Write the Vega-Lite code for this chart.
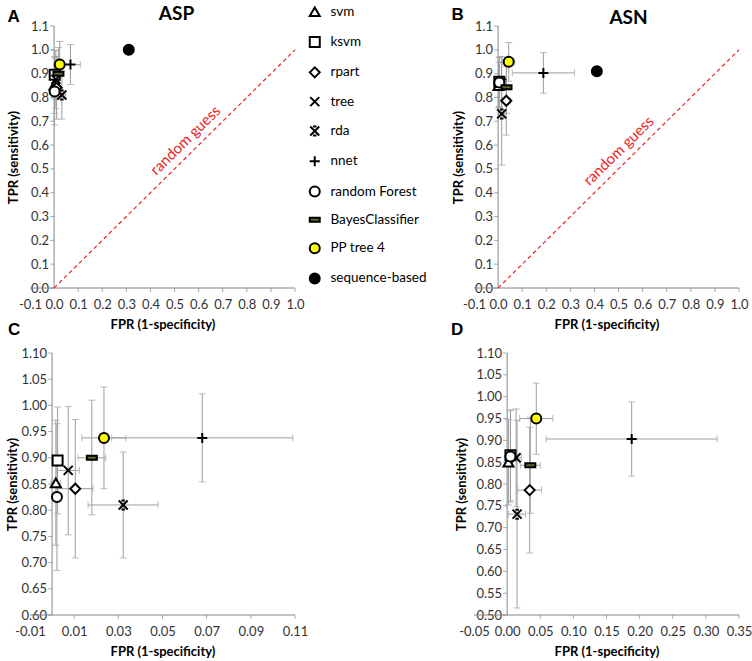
{
"$schema": "https://vega.github.io/schema/vega-lite/v6.json",
"padding": {"left": 6, "top": 4, "right": 2, "bottom": 2},
"background": "white",
"config": {
  "font": "Lato",
  "view": {"stroke": null},
  "axis": {"labelFont": "Lato", "labelFontSize": 13, "labelColor": "#333333", "titleFont": "Lato", "titleFontSize": 13, "titleFontWeight": "bold", "titleColor": "#000000"}
},
"datasets": {
  "asp": [
    {"method": "svm", "fpr": 0.0017, "fpr_lo": -0.0005, "fpr_hi": 0.0039, "tpr": 0.852, "tpr_lo": 0.733, "tpr_hi": 0.972},
    {"method": "ksvm", "fpr": 0.0025, "fpr_lo": 0.0005, "fpr_hi": 0.0045, "tpr": 0.895, "tpr_lo": 0.793, "tpr_hi": 0.997},
    {"method": "rpart", "fpr": 0.0105, "fpr_lo": 0.0025, "fpr_hi": 0.0185, "tpr": 0.841, "tpr_lo": 0.709, "tpr_hi": 0.973},
    {"method": "tree", "fpr": 0.0073, "fpr_lo": 0.0023, "fpr_hi": 0.0123, "tpr": 0.876, "tpr_lo": 0.753, "tpr_hi": 0.998},
    {"method": "rda", "fpr": 0.0322, "fpr_lo": 0.0163, "fpr_hi": 0.048, "tpr": 0.81, "tpr_lo": 0.709, "tpr_hi": 0.911},
    {"method": "nnet", "fpr": 0.068, "fpr_lo": 0.027, "fpr_hi": 0.109, "tpr": 0.938, "tpr_lo": 0.854, "tpr_hi": 1.022},
    {"method": "random Forest", "fpr": 0.0022, "fpr_lo": 0.0002, "fpr_hi": 0.0042, "tpr": 0.825, "tpr_lo": 0.685, "tpr_hi": 0.965},
    {"method": "BayesClassifier", "fpr": 0.018, "fpr_lo": 0.0118, "fpr_hi": 0.0243, "tpr": 0.9, "tpr_lo": 0.791, "tpr_hi": 1.01},
    {"method": "PP tree 4", "fpr": 0.0235, "fpr_lo": 0.0135, "fpr_hi": 0.0335, "tpr": 0.938, "tpr_lo": 0.841, "tpr_hi": 1.035},
    {"method": "sequence-based", "fpr": 0.31, "fpr_lo": null, "fpr_hi": null, "tpr": 1.0, "tpr_lo": null, "tpr_hi": null}
  ],
  "asn": [
    {"method": "svm", "fpr": 0.002, "fpr_lo": 0.0, "fpr_hi": 0.004, "tpr": 0.85, "tpr_lo": 0.752, "tpr_hi": 0.948},
    {"method": "ksvm", "fpr": 0.005, "fpr_lo": 0.001, "fpr_hi": 0.009, "tpr": 0.866, "tpr_lo": 0.762, "tpr_hi": 0.97},
    {"method": "rpart", "fpr": 0.034, "fpr_lo": 0.016, "fpr_hi": 0.052, "tpr": 0.786, "tpr_lo": 0.642, "tpr_hi": 0.93},
    {"method": "tree", "fpr": 0.0136, "fpr_lo": 0.0056, "fpr_hi": 0.0216, "tpr": 0.86, "tpr_lo": 0.748, "tpr_hi": 0.972},
    {"method": "rda", "fpr": 0.015, "fpr_lo": 0.002, "fpr_hi": 0.028, "tpr": 0.731, "tpr_lo": 0.516, "tpr_hi": 0.946},
    {"method": "nnet", "fpr": 0.188, "fpr_lo": 0.059, "fpr_hi": 0.317, "tpr": 0.903, "tpr_lo": 0.818, "tpr_hi": 0.988},
    {"method": "random Forest", "fpr": 0.005, "fpr_lo": 0.001, "fpr_hi": 0.009, "tpr": 0.863, "tpr_lo": 0.758, "tpr_hi": 0.968},
    {"method": "BayesClassifier", "fpr": 0.035, "fpr_lo": 0.02, "fpr_hi": 0.05, "tpr": 0.843, "tpr_lo": 0.733, "tpr_hi": 0.953},
    {"method": "PP tree 4", "fpr": 0.044, "fpr_lo": 0.019, "fpr_hi": 0.069, "tpr": 0.95, "tpr_lo": 0.868, "tpr_hi": 1.031},
    {"method": "sequence-based", "fpr": 0.41, "fpr_lo": null, "fpr_hi": null, "tpr": 0.91, "tpr_lo": null, "tpr_hi": null}
  ]
},
"columns": 2,
"spacing": {"row": 65, "column": 179},
"bounds": "flush",
"resolve": {"scale": {"x": "independent", "y": "independent", "shape": "independent", "fill": "independent", "stroke": "independent"}},
"concat": [
  {
    "width": 265, "height": 262,
    "data": {"name": "asp"},
    "resolve": {"axis": {"x": "independent", "y": "independent"}},
    "layer": [
      {"data": {"values": [{}]}, "mark": {"type": "rule", "color": "#868686", "strokeWidth": 1},
       "encoding": {"x": {"datum": -0.1, "type": "quantitative", "axis": null}, "x2": {"datum": 1.0}, "y": {"datum": 0, "type": "quantitative", "axis": null}}},
      {"data": {"values": [{}]}, "mark": {"type": "rule", "color": "#868686", "strokeWidth": 1},
       "encoding": {"x": {"datum": 0, "type": "quantitative", "axis": null}, "y": {"datum": 0, "type": "quantitative", "axis": null}, "y2": {"datum": 1.1}}},
      {"data": {"values": [{"v": 0.1}, {"v": 0.2}, {"v": 0.3}, {"v": 0.4}, {"v": 0.5}, {"v": 0.6}, {"v": 0.7}, {"v": 0.8}, {"v": 0.9}, {"v": 1.0}]},
       "mark": {"type": "tick", "orient": "vertical", "size": 4, "thickness": 1, "color": "#868686", "yOffset": 2},
       "encoding": {"x": {"field": "v", "type": "quantitative", "axis": null}, "y": {"datum": 0, "type": "quantitative", "axis": null}}},
      {"data": {"values": [{"v": 0}, {"v": 0.1}, {"v": 0.2}, {"v": 0.3}, {"v": 0.4}, {"v": 0.5}, {"v": 0.6}, {"v": 0.7}, {"v": 0.8}, {"v": 0.9}, {"v": 1.0}, {"v": 1.1}]},
       "mark": {"type": "tick", "orient": "horizontal", "size": 4, "thickness": 1, "color": "#868686", "xOffset": -2},
       "encoding": {"x": {"datum": 0, "type": "quantitative", "axis": null}, "y": {"field": "v", "type": "quantitative", "axis": null}}},
      {"data": {"values": [{}]}, "mark": {"type": "rule", "stroke": "#ee2222", "strokeDash": [4, 3], "strokeWidth": 1.2},
       "encoding": {"x": {"datum": 0, "type": "quantitative", "axis": null}, "y": {"datum": 0, "type": "quantitative", "axis": null}, "x2": {"datum": 1}, "y2": {"datum": 1}}},
      {"data": {"values": [{}]}, "mark": {"type": "text", "angle": 315.5, "fontSize": 15, "font": "Lato", "color": "#ee2222"},
       "encoding": {"x": {"datum": 0.545, "type": "quantitative", "axis": null}, "y": {"datum": 0.62, "type": "quantitative", "axis": null}, "text": {"value": "random guess"}}},
      {"transform": [{"filter": "datum.fpr_lo != null"}], "mark": {"type": "rule", "color": "#9e9e9e", "strokeWidth": 1},
       "encoding": {
         "x": {"field": "fpr_lo", "type": "quantitative", "scale": {"domain": [-0.1, 1.0], "nice": false, "zero": false},
               "axis": {"orient": "bottom", "title": "FPR (1-specificity)", "values": [-0.1, 0, 0.1, 0.2, 0.3, 0.4, 0.5, 0.6, 0.7, 0.8, 0.9, 1.0], "labelExpr": "replace(format(datum.value, '.1f'), '\u2212', '-')", "domain": false, "ticks": true, "tickColor": "transparent", "tickSize": 4, "grid": false, "labelOverlap": false, "labelFlush": false, "labelPadding": 6, "titlePadding": 7}},
         "x2": {"field": "fpr_hi"},
         "y": {"field": "tpr", "type": "quantitative", "scale": {"domain": [0, 1.1], "nice": false, "zero": false},
               "axis": {"orient": "left", "title": "TPR (sensitivity)", "values": [0, 0.1, 0.2, 0.3, 0.4, 0.5, 0.6, 0.7, 0.8, 0.9, 1.0, 1.1], "format": ".1f", "offset": -24.1, "domain": false, "ticks": true, "tickColor": "transparent", "tickSize": 4, "grid": false, "labelOverlap": false, "labelFlush": false, "labelPadding": 1.5, "titlePadding": 10}}}},
      {"transform": [{"filter": "datum.fpr_lo != null"}], "mark": {"type": "tick", "orient": "vertical", "size": 7, "thickness": 1, "color": "#9e9e9e"},
       "encoding": {"x": {"field": "fpr_lo", "type": "quantitative", "axis": null}, "y": {"field": "tpr", "type": "quantitative", "axis": null}}},
      {"transform": [{"filter": "datum.fpr_lo != null"}], "mark": {"type": "tick", "orient": "vertical", "size": 7, "thickness": 1, "color": "#9e9e9e"},
       "encoding": {"x": {"field": "fpr_hi", "type": "quantitative", "axis": null}, "y": {"field": "tpr", "type": "quantitative", "axis": null}}},
      {"transform": [{"filter": "datum.fpr_lo != null"}], "mark": {"type": "rule", "color": "#9e9e9e", "strokeWidth": 1},
       "encoding": {
         "x": {"field": "fpr", "type": "quantitative", "axis": {"orient": "top", "domain": false, "ticks": false, "labels": false, "grid": false, "title": "A", "titleX": -23, "titleY": -10, "titleAlign": "left", "titleBaseline": "middle", "titleAngle": 0, "titleFont": "Liberation Sans", "titleFontSize": 17, "titleFontWeight": "bold"}},
         "y": {"field": "tpr_lo", "type": "quantitative", "axis": null}, "y2": {"field": "tpr_hi"}}},
      {"transform": [{"filter": "datum.fpr_lo != null"}], "mark": {"type": "tick", "orient": "horizontal", "size": 7, "thickness": 1, "color": "#9e9e9e"},
       "encoding": {"x": {"field": "fpr", "type": "quantitative", "axis": null}, "y": {"field": "tpr_lo", "type": "quantitative", "axis": null}}},
      {"transform": [{"filter": "datum.fpr_lo != null"}], "mark": {"type": "tick", "orient": "horizontal", "size": 7, "thickness": 1, "color": "#9e9e9e"},
       "encoding": {"x": {"field": "fpr", "type": "quantitative", "axis": null}, "y": {"field": "tpr_hi", "type": "quantitative", "axis": null}}},
      {"mark": {"type": "point", "opacity": 1, "strokeWidth": 2, "size": 100},
       "encoding": {
         "x": {"field": "fpr", "type": "quantitative", "axis": {"orient": "top", "domain": false, "ticks": false, "labels": false, "grid": false, "title": "ASP", "titleX": 146, "titleY": -13, "titleAlign": "center", "titleBaseline": "middle", "titleAngle": 0, "titleFontSize": 19, "titleFontWeight": "bold"}},
         "y": {"field": "tpr", "type": "quantitative", "axis": null},
         "shape": {"field": "method", "type": "nominal",
           "scale": {"domain": ["svm", "ksvm", "rpart", "tree", "rda", "nnet", "random Forest", "BayesClassifier", "PP tree 4", "sequence-based"],
                     "range": ["triangle-up", "square", "diamond", "M-0.9,-0.9L0.9,0.9M-0.9,0.9L0.9,-0.9", "M-0.9,-0.9L0.9,0.9M-0.9,0.9L0.9,-0.9M-0.35,-0.9L0.35,-0.9M-0.35,0.9L0.35,0.9", "M-1,0L1,0M0,-1L0,1", "circle", "M-1,-0.4L1,-0.4L1,0.4L-1,0.4Z", "circle", "circle"]},
           "legend": {"orient": "none", "legendX": 278, "legendY": -21, "direction": "vertical", "title": null, "padding": 0, "labelFont": "Lato", "labelFontSize": 13.5, "labelColor": "#000000", "labelOffset": 9, "rowPadding": 11.3, "symbolSize": 100, "symbolStrokeWidth": 2}},
         "fill": {"field": "method", "type": "nominal",
           "scale": {"domain": ["svm", "ksvm", "rpart", "tree", "rda", "nnet", "random Forest", "BayesClassifier", "PP tree 4", "sequence-based"],
                     "range": ["#ffffff", "#ffffff", "#ffffff", "#ffffff", "#ffffff", "#ffffff", "#ffffff", "#5b6a24", "#ffff00", "#000000"]},
           "legend": {"orient": "none", "legendX": 278, "legendY": -21, "direction": "vertical", "title": null, "padding": 0, "labelFont": "Lato", "labelFontSize": 13.5, "labelColor": "#000000", "labelOffset": 9, "rowPadding": 11.3, "symbolSize": 100, "symbolStrokeWidth": 2}},
         "stroke": {"field": "method", "type": "nominal",
           "scale": {"domain": ["svm", "ksvm", "rpart", "tree", "rda", "nnet", "random Forest", "BayesClassifier", "PP tree 4", "sequence-based"],
                     "range": ["#000000", "#000000", "#000000", "#000000", "#000000", "#000000", "#000000", "#000000", "#000000", "#000000"]},
           "legend": {"orient": "none", "legendX": 278, "legendY": -21, "direction": "vertical", "title": null, "padding": 0, "labelFont": "Lato", "labelFontSize": 13.5, "labelColor": "#000000", "labelOffset": 9, "rowPadding": 11.3, "symbolSize": 100, "symbolStrokeWidth": 2}}}}
    ]
  },
  {
    "width": 265, "height": 262,
    "data": {"name": "asn"},
    "resolve": {"axis": {"x": "independent", "y": "independent"}},
    "layer": [
      {"data": {"values": [{}]}, "mark": {"type": "rule", "color": "#868686", "strokeWidth": 1},
       "encoding": {"x": {"datum": -0.1, "type": "quantitative", "axis": null}, "x2": {"datum": 1.0}, "y": {"datum": 0, "type": "quantitative", "axis": null}}},
      {"data": {"values": [{}]}, "mark": {"type": "rule", "color": "#868686", "strokeWidth": 1},
       "encoding": {"x": {"datum": 0, "type": "quantitative", "axis": null}, "y": {"datum": 0, "type": "quantitative", "axis": null}, "y2": {"datum": 1.1}}},
      {"data": {"values": [{"v": 0.1}, {"v": 0.2}, {"v": 0.3}, {"v": 0.4}, {"v": 0.5}, {"v": 0.6}, {"v": 0.7}, {"v": 0.8}, {"v": 0.9}, {"v": 1.0}]},
       "mark": {"type": "tick", "orient": "vertical", "size": 4, "thickness": 1, "color": "#868686", "yOffset": 2},
       "encoding": {"x": {"field": "v", "type": "quantitative", "axis": null}, "y": {"datum": 0, "type": "quantitative", "axis": null}}},
      {"data": {"values": [{"v": 0}, {"v": 0.1}, {"v": 0.2}, {"v": 0.3}, {"v": 0.4}, {"v": 0.5}, {"v": 0.6}, {"v": 0.7}, {"v": 0.8}, {"v": 0.9}, {"v": 1.0}, {"v": 1.1}]},
       "mark": {"type": "tick", "orient": "horizontal", "size": 4, "thickness": 1, "color": "#868686", "xOffset": -2},
       "encoding": {"x": {"datum": 0, "type": "quantitative", "axis": null}, "y": {"field": "v", "type": "quantitative", "axis": null}}},
      {"data": {"values": [{}]}, "mark": {"type": "rule", "stroke": "#ee2222", "strokeDash": [4, 3], "strokeWidth": 1.2},
       "encoding": {"x": {"datum": 0, "type": "quantitative", "axis": null}, "y": {"datum": 0, "type": "quantitative", "axis": null}, "x2": {"datum": 1}, "y2": {"datum": 1}}},
      {"data": {"values": [{}]}, "mark": {"type": "text", "angle": 315.5, "fontSize": 15, "font": "Lato", "color": "#ee2222"},
       "encoding": {"x": {"datum": 0.5, "type": "quantitative", "axis": null}, "y": {"datum": 0.576, "type": "quantitative", "axis": null}, "text": {"value": "random guess"}}},
      {"transform": [{"filter": "datum.fpr_lo != null"}], "mark": {"type": "rule", "color": "#9e9e9e", "strokeWidth": 1},
       "encoding": {
         "x": {"field": "fpr_lo", "type": "quantitative", "scale": {"domain": [-0.1, 1.0], "nice": false, "zero": false},
               "axis": {"orient": "bottom", "title": "FPR (1-specificity)", "values": [-0.1, 0, 0.1, 0.2, 0.3, 0.4, 0.5, 0.6, 0.7, 0.8, 0.9, 1.0], "labelExpr": "replace(format(datum.value, '.1f'), '\u2212', '-')", "domain": false, "ticks": true, "tickColor": "transparent", "tickSize": 4, "grid": false, "labelOverlap": false, "labelFlush": false, "labelPadding": 6, "titlePadding": 7}},
         "x2": {"field": "fpr_hi"},
         "y": {"field": "tpr", "type": "quantitative", "scale": {"domain": [0, 1.1], "nice": false, "zero": false},
               "axis": {"orient": "left", "title": "TPR (sensitivity)", "values": [0, 0.1, 0.2, 0.3, 0.4, 0.5, 0.6, 0.7, 0.8, 0.9, 1.0, 1.1], "format": ".1f", "offset": -24.1, "domain": false, "ticks": true, "tickColor": "transparent", "tickSize": 4, "grid": false, "labelOverlap": false, "labelFlush": false, "labelPadding": 1.5, "titlePadding": 9}}}},
      {"transform": [{"filter": "datum.fpr_lo != null"}], "mark": {"type": "tick", "orient": "vertical", "size": 7, "thickness": 1, "color": "#9e9e9e"},
       "encoding": {"x": {"field": "fpr_lo", "type": "quantitative", "axis": null}, "y": {"field": "tpr", "type": "quantitative", "axis": null}}},
      {"transform": [{"filter": "datum.fpr_lo != null"}], "mark": {"type": "tick", "orient": "vertical", "size": 7, "thickness": 1, "color": "#9e9e9e"},
       "encoding": {"x": {"field": "fpr_hi", "type": "quantitative", "axis": null}, "y": {"field": "tpr", "type": "quantitative", "axis": null}}},
      {"transform": [{"filter": "datum.fpr_lo != null"}], "mark": {"type": "rule", "color": "#9e9e9e", "strokeWidth": 1},
       "encoding": {
         "x": {"field": "fpr", "type": "quantitative", "axis": {"orient": "top", "domain": false, "ticks": false, "labels": false, "grid": false, "title": "B", "titleX": -23, "titleY": -11.5, "titleAlign": "left", "titleBaseline": "middle", "titleAngle": 0, "titleFont": "Liberation Sans", "titleFontSize": 17, "titleFontWeight": "bold"}},
         "y": {"field": "tpr_lo", "type": "quantitative", "axis": null}, "y2": {"field": "tpr_hi"}}},
      {"transform": [{"filter": "datum.fpr_lo != null"}], "mark": {"type": "tick", "orient": "horizontal", "size": 7, "thickness": 1, "color": "#9e9e9e"},
       "encoding": {"x": {"field": "fpr", "type": "quantitative", "axis": null}, "y": {"field": "tpr_lo", "type": "quantitative", "axis": null}}},
      {"transform": [{"filter": "datum.fpr_lo != null"}], "mark": {"type": "tick", "orient": "horizontal", "size": 7, "thickness": 1, "color": "#9e9e9e"},
       "encoding": {"x": {"field": "fpr", "type": "quantitative", "axis": null}, "y": {"field": "tpr_hi", "type": "quantitative", "axis": null}}},
      {"mark": {"type": "point", "opacity": 1, "strokeWidth": 2, "size": 100},
       "encoding": {
         "x": {"field": "fpr", "type": "quantitative", "axis": {"orient": "top", "domain": false, "ticks": false, "labels": false, "grid": false, "title": "ASN", "titleX": 154, "titleY": -8.5, "titleAlign": "center", "titleBaseline": "middle", "titleAngle": 0, "titleFontSize": 19, "titleFontWeight": "bold"}},
         "y": {"field": "tpr", "type": "quantitative", "axis": null},
         "shape": {"field": "method", "type": "nominal",
           "scale": {"domain": ["svm", "ksvm", "rpart", "tree", "rda", "nnet", "random Forest", "BayesClassifier", "PP tree 4", "sequence-based"],
                     "range": ["triangle-up", "square", "diamond", "M-0.9,-0.9L0.9,0.9M-0.9,0.9L0.9,-0.9", "M-0.9,-0.9L0.9,0.9M-0.9,0.9L0.9,-0.9M-0.35,-0.9L0.35,-0.9M-0.35,0.9L0.35,0.9", "M-1,0L1,0M0,-1L0,1", "circle", "M-1,-0.4L1,-0.4L1,0.4L-1,0.4Z", "circle", "circle"]},
           "legend": null},
         "fill": {"field": "method", "type": "nominal",
           "scale": {"domain": ["svm", "ksvm", "rpart", "tree", "rda", "nnet", "random Forest", "BayesClassifier", "PP tree 4", "sequence-based"],
                     "range": ["#ffffff", "#ffffff", "#ffffff", "#ffffff", "#ffffff", "#ffffff", "#ffffff", "#5b6a24", "#ffff00", "#000000"]},
           "legend": null},
         "stroke": {"value": "#000000"}}}
    ]
  },
  {
    "width": 265, "height": 262,
    "data": {"name": "asp"},
    "title": {"text": "C", "anchor": "start", "frame": "group", "dx": -22, "fontSize": 17, "font": "Liberation Sans", "fontWeight": "bold", "offset": 8},
    "transform": [{"filter": "datum.method != 'sequence-based'"}],
    "resolve": {"axis": {"x": "independent", "y": "independent"}},
    "layer": [
      {"data": {"values": [{}]}, "mark": {"type": "rule", "color": "#868686", "strokeWidth": 1},
       "encoding": {"x": {"datum": -0.01, "type": "quantitative", "axis": null}, "x2": {"datum": 0.11}, "y": {"datum": 0.6, "type": "quantitative", "axis": null}}},
      {"data": {"values": [{}]}, "mark": {"type": "rule", "color": "#868686", "strokeWidth": 1},
       "encoding": {"x": {"datum": 0, "type": "quantitative", "axis": null}, "y": {"datum": 0.6, "type": "quantitative", "axis": null}, "y2": {"datum": 1.1}}},
      {"data": {"values": [{"v": 0.01}, {"v": 0.03}, {"v": 0.05}, {"v": 0.07}, {"v": 0.09}, {"v": 0.11}]},
       "mark": {"type": "tick", "orient": "vertical", "size": 4, "thickness": 1, "color": "#868686", "yOffset": 2},
       "encoding": {"x": {"field": "v", "type": "quantitative", "axis": null}, "y": {"datum": 0.6, "type": "quantitative", "axis": null}}},
      {"data": {"values": [{"v": 0.6}, {"v": 0.65}, {"v": 0.7}, {"v": 0.75}, {"v": 0.8}, {"v": 0.85}, {"v": 0.9}, {"v": 0.95}, {"v": 1.0}, {"v": 1.05}, {"v": 1.1}]},
       "mark": {"type": "tick", "orient": "horizontal", "size": 4, "thickness": 1, "color": "#868686", "xOffset": -2},
       "encoding": {"x": {"datum": 0, "type": "quantitative", "axis": null}, "y": {"field": "v", "type": "quantitative", "axis": null}}},
      {"mark": {"type": "rule", "color": "#9e9e9e", "strokeWidth": 1},
       "encoding": {
         "x": {"field": "fpr_lo", "type": "quantitative", "scale": {"domain": [-0.01, 0.11], "nice": false, "zero": false},
               "axis": {"orient": "bottom", "title": "FPR (1-specificity)", "values": [-0.01, 0.01, 0.03, 0.05, 0.07, 0.09, 0.11], "labelExpr": "replace(format(datum.value, '.2f'), '\u2212', '-')", "domain": false, "ticks": true, "tickColor": "transparent", "tickSize": 4, "grid": false, "labelOverlap": false, "labelFlush": false, "labelPadding": 6, "titlePadding": 7}},
         "x2": {"field": "fpr_hi"},
         "y": {"field": "tpr", "type": "quantitative", "scale": {"domain": [0.6, 1.1], "nice": false, "zero": false},
               "axis": {"orient": "left", "title": "TPR (sensitivity)", "values": [0.6, 0.65, 0.7, 0.75, 0.8, 0.85, 0.9, 0.95, 1.0, 1.05, 1.1], "format": ".2f", "offset": -22.1, "domain": false, "ticks": true, "tickColor": "transparent", "tickSize": 4, "grid": false, "labelOverlap": false, "labelFlush": false, "labelPadding": 1.5, "titlePadding": 1}}}},
      {"mark": {"type": "tick", "orient": "vertical", "size": 7, "thickness": 1, "color": "#9e9e9e"},
       "encoding": {"x": {"field": "fpr_lo", "type": "quantitative", "axis": null}, "y": {"field": "tpr", "type": "quantitative", "axis": null}}},
      {"mark": {"type": "tick", "orient": "vertical", "size": 7, "thickness": 1, "color": "#9e9e9e"},
       "encoding": {"x": {"field": "fpr_hi", "type": "quantitative", "axis": null}, "y": {"field": "tpr", "type": "quantitative", "axis": null}}},
      {"mark": {"type": "rule", "color": "#9e9e9e", "strokeWidth": 1},
       "encoding": {
         "x": {"field": "fpr", "type": "quantitative", "axis": null},
         "y": {"field": "tpr_lo", "type": "quantitative", "axis": null}, "y2": {"field": "tpr_hi"}}},
      {"mark": {"type": "tick", "orient": "horizontal", "size": 7, "thickness": 1, "color": "#9e9e9e"},
       "encoding": {"x": {"field": "fpr", "type": "quantitative", "axis": null}, "y": {"field": "tpr_lo", "type": "quantitative", "axis": null}}},
      {"mark": {"type": "tick", "orient": "horizontal", "size": 7, "thickness": 1, "color": "#9e9e9e"},
       "encoding": {"x": {"field": "fpr", "type": "quantitative", "axis": null}, "y": {"field": "tpr_hi", "type": "quantitative", "axis": null}}},
      {"mark": {"type": "point", "opacity": 1, "strokeWidth": 2, "size": 100},
       "encoding": {
         "x": {"field": "fpr", "type": "quantitative", "axis": null},
         "y": {"field": "tpr", "type": "quantitative", "axis": null},
         "shape": {"field": "method", "type": "nominal",
           "scale": {"domain": ["svm", "ksvm", "rpart", "tree", "rda", "nnet", "random Forest", "BayesClassifier", "PP tree 4", "sequence-based"],
                     "range": ["triangle-up", "square", "diamond", "M-0.9,-0.9L0.9,0.9M-0.9,0.9L0.9,-0.9", "M-0.9,-0.9L0.9,0.9M-0.9,0.9L0.9,-0.9M-0.35,-0.9L0.35,-0.9M-0.35,0.9L0.35,0.9", "M-1,0L1,0M0,-1L0,1", "circle", "M-1,-0.4L1,-0.4L1,0.4L-1,0.4Z", "circle", "circle"]},
           "legend": null},
         "fill": {"field": "method", "type": "nominal",
           "scale": {"domain": ["svm", "ksvm", "rpart", "tree", "rda", "nnet", "random Forest", "BayesClassifier", "PP tree 4", "sequence-based"],
                     "range": ["#ffffff", "#ffffff", "#ffffff", "#ffffff", "#ffffff", "#ffffff", "#ffffff", "#5b6a24", "#ffff00", "#000000"]},
           "legend": null},
         "stroke": {"value": "#000000"}}}
    ]
  },
  {
    "width": 265, "height": 262,
    "data": {"name": "asn"},
    "title": {"text": "D", "anchor": "start", "frame": "group", "dx": -23, "fontSize": 17, "font": "Liberation Sans", "fontWeight": "bold", "offset": 8},
    "transform": [{"filter": "datum.method != 'sequence-based'"}],
    "resolve": {"axis": {"x": "independent", "y": "independent"}},
    "layer": [
      {"data": {"values": [{}]}, "mark": {"type": "rule", "color": "#868686", "strokeWidth": 1},
       "encoding": {"x": {"datum": -0.05, "type": "quantitative", "axis": null}, "x2": {"datum": 0.35}, "y": {"datum": 0.5, "type": "quantitative", "axis": null}}},
      {"data": {"values": [{}]}, "mark": {"type": "rule", "color": "#868686", "strokeWidth": 1},
       "encoding": {"x": {"datum": 0, "type": "quantitative", "axis": null}, "y": {"datum": 0.5, "type": "quantitative", "axis": null}, "y2": {"datum": 1.1}}},
      {"data": {"values": [{"v": 0.05}, {"v": 0.1}, {"v": 0.15}, {"v": 0.2}, {"v": 0.25}, {"v": 0.3}, {"v": 0.35}]},
       "mark": {"type": "tick", "orient": "vertical", "size": 4, "thickness": 1, "color": "#868686", "yOffset": 2},
       "encoding": {"x": {"field": "v", "type": "quantitative", "axis": null}, "y": {"datum": 0.5, "type": "quantitative", "axis": null}}},
      {"data": {"values": [{"v": 0.5}, {"v": 0.55}, {"v": 0.6}, {"v": 0.65}, {"v": 0.7}, {"v": 0.75}, {"v": 0.8}, {"v": 0.85}, {"v": 0.9}, {"v": 0.95}, {"v": 1.0}, {"v": 1.05}, {"v": 1.1}]},
       "mark": {"type": "tick", "orient": "horizontal", "size": 4, "thickness": 1, "color": "#868686", "xOffset": -2},
       "encoding": {"x": {"datum": 0, "type": "quantitative", "axis": null}, "y": {"field": "v", "type": "quantitative", "axis": null}}},
      {"mark": {"type": "rule", "color": "#9e9e9e", "strokeWidth": 1},
       "encoding": {
         "x": {"field": "fpr_lo", "type": "quantitative", "scale": {"domain": [-0.05, 0.35], "nice": false, "zero": false},
               "axis": {"orient": "bottom", "title": "FPR (1-specificity)", "values": [-0.05, 0, 0.05, 0.1, 0.15, 0.2, 0.25, 0.3, 0.35], "labelExpr": "replace(format(datum.value, '.2f'), '\u2212', '-')", "domain": false, "ticks": true, "tickColor": "transparent", "tickSize": 4, "grid": false, "labelOverlap": false, "labelFlush": false, "labelPadding": 6, "titlePadding": 7}},
         "x2": {"field": "fpr_hi"},
         "y": {"field": "tpr", "type": "quantitative", "scale": {"domain": [0.5, 1.1], "nice": false, "zero": false},
               "axis": {"orient": "left", "title": "TPR (sensitivity)", "values": [0.5, 0.55, 0.6, 0.65, 0.7, 0.75, 0.8, 0.85, 0.9, 0.95, 1.0, 1.05, 1.1], "format": ".2f", "offset": -33.1, "domain": false, "ticks": true, "tickColor": "transparent", "tickSize": 4, "grid": false, "labelOverlap": false, "labelFlush": false, "labelPadding": 1.5, "titlePadding": 7}}}},
      {"mark": {"type": "tick", "orient": "vertical", "size": 7, "thickness": 1, "color": "#9e9e9e"},
       "encoding": {"x": {"field": "fpr_lo", "type": "quantitative", "axis": null}, "y": {"field": "tpr", "type": "quantitative", "axis": null}}},
      {"mark": {"type": "tick", "orient": "vertical", "size": 7, "thickness": 1, "color": "#9e9e9e"},
       "encoding": {"x": {"field": "fpr_hi", "type": "quantitative", "axis": null}, "y": {"field": "tpr", "type": "quantitative", "axis": null}}},
      {"mark": {"type": "rule", "color": "#9e9e9e", "strokeWidth": 1},
       "encoding": {
         "x": {"field": "fpr", "type": "quantitative", "axis": null},
         "y": {"field": "tpr_lo", "type": "quantitative", "axis": null}, "y2": {"field": "tpr_hi"}}},
      {"mark": {"type": "tick", "orient": "horizontal", "size": 7, "thickness": 1, "color": "#9e9e9e"},
       "encoding": {"x": {"field": "fpr", "type": "quantitative", "axis": null}, "y": {"field": "tpr_lo", "type": "quantitative", "axis": null}}},
      {"mark": {"type": "tick", "orient": "horizontal", "size": 7, "thickness": 1, "color": "#9e9e9e"},
       "encoding": {"x": {"field": "fpr", "type": "quantitative", "axis": null}, "y": {"field": "tpr_hi", "type": "quantitative", "axis": null}}},
      {"mark": {"type": "point", "opacity": 1, "strokeWidth": 2, "size": 100},
       "encoding": {
         "x": {"field": "fpr", "type": "quantitative", "axis": null},
         "y": {"field": "tpr", "type": "quantitative", "axis": null},
         "shape": {"field": "method", "type": "nominal",
           "scale": {"domain": ["svm", "ksvm", "rpart", "tree", "rda", "nnet", "random Forest", "BayesClassifier", "PP tree 4", "sequence-based"],
                     "range": ["triangle-up", "square", "diamond", "M-0.9,-0.9L0.9,0.9M-0.9,0.9L0.9,-0.9", "M-0.9,-0.9L0.9,0.9M-0.9,0.9L0.9,-0.9M-0.35,-0.9L0.35,-0.9M-0.35,0.9L0.35,0.9", "M-1,0L1,0M0,-1L0,1", "circle", "M-1,-0.4L1,-0.4L1,0.4L-1,0.4Z", "circle", "circle"]},
           "legend": null},
         "fill": {"field": "method", "type": "nominal",
           "scale": {"domain": ["svm", "ksvm", "rpart", "tree", "rda", "nnet", "random Forest", "BayesClassifier", "PP tree 4", "sequence-based"],
                     "range": ["#ffffff", "#ffffff", "#ffffff", "#ffffff", "#ffffff", "#ffffff", "#ffffff", "#5b6a24", "#ffff00", "#000000"]},
           "legend": null},
         "stroke": {"value": "#000000"}}}
    ]
  }
]
}
